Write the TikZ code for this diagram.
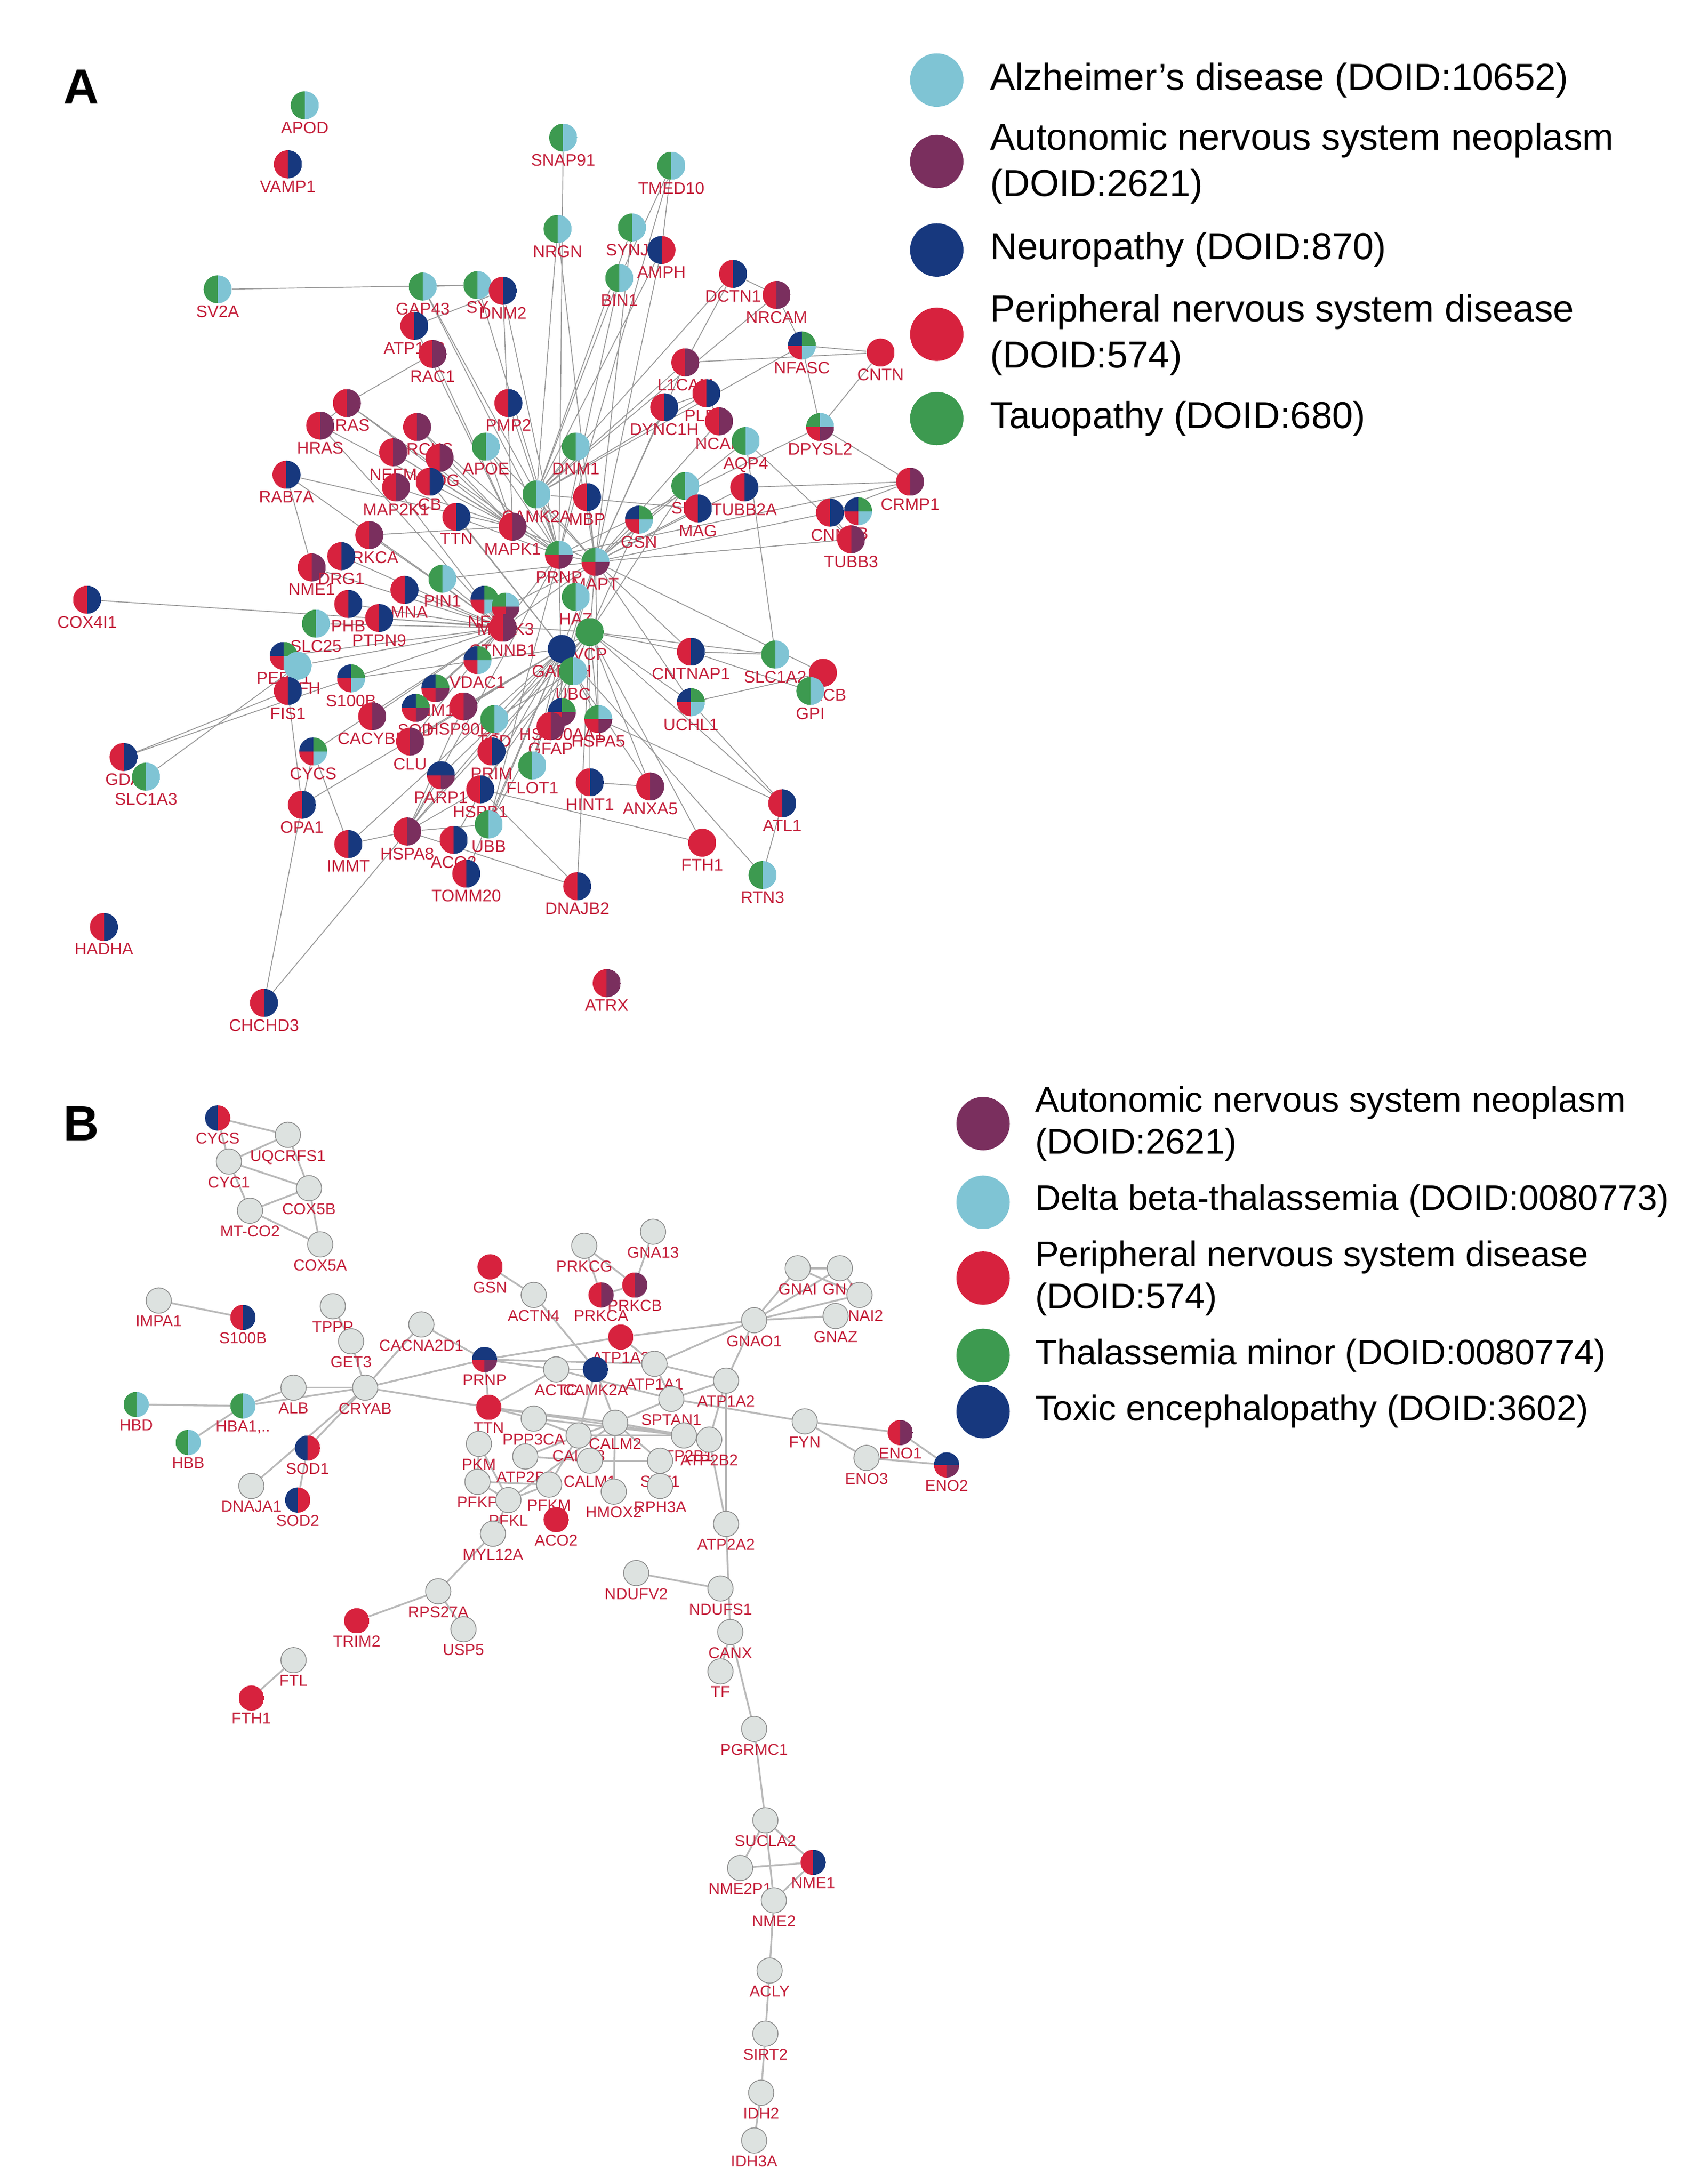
\documentclass[tikz,border=0pt]{standalone}
\usepackage{fontspec}
\setmainfont{Liberation Sans}
\usetikzlibrary{backgrounds}
\definecolor{cy}{HTML}{7FC4D4}
\definecolor{pu}{HTML}{7A2F5E}
\definecolor{nv}{HTML}{17387E}
\definecolor{rd}{HTML}{D7223E}
\definecolor{gr}{HTML}{3D9A50}
\definecolor{gyf}{HTML}{DDE2E0}
\definecolor{gyd}{HTML}{8C8C8C}
\definecolor{lbl}{HTML}{C41F3A}
\tikzset{
 pnode/.style={circle,minimum size=1.0cm,inner sep=0pt},
 gnode/.style={circle,minimum size=0.9cm,inner sep=0pt,fill=gyf,draw=gyd,line width=0.8pt},
 lab/.style={font=\fontsize{17}{17}\selectfont,text=lbl,inner sep=0pt},
 labB/.style={font=\fontsize{16}{16}\selectfont,text=lbl,inner sep=0pt},
 ppic/.style 2 args={path picture={
   \fill[#1] (path picture bounding box.south west) rectangle (path picture bounding box.north);
   \fill[#2] (path picture bounding box.south) rectangle (path picture bounding box.north east);}},
 qpic/.style n args={4}{path picture={
   \fill[#1] (path picture bounding box.west) rectangle (path picture bounding box.north);
   \fill[#2] (path picture bounding box.center) rectangle (path picture bounding box.north east);
   \fill[#3] (path picture bounding box.south west) rectangle (path picture bounding box.center);
   \fill[#4] (path picture bounding box.south) rectangle (path picture bounding box.east);}},
 edgeA/.style={draw=gray!80,line width=0.9pt},
 edgeB/.style={draw=gray!55,line width=1.8pt},
 leg/.style={font=\fontsize{38}{44}\selectfont,anchor=west,inner sep=0pt},
 legB/.style={font=\fontsize{36}{42}\selectfont,anchor=west,inner sep=0pt},
}
\newcommand\pn[6]{\node[pnode,ppic={#4}{#5},label={[lab,label distance=2pt]below:#6}] (#1) at (#2,#3) {};}
\newcommand\qn[8]{\node[pnode,qpic={#4}{#5}{#6}{#7},label={[lab,label distance=2pt]below:#8}] (#1) at (#2,#3) {};}
\newcommand\gn[4]{\node[gnode,label={[labB,label distance=2pt]below:#4}] (#1) at (#2,#3) {};}
\newcommand\cn[5]{\node[pnode,minimum size=0.9cm,ppic={#4}{#5},label={[labB,label distance=2pt]below:#1}] (b#1) at (#2,#3) {};}
\begin{document}
\begin{tikzpicture}[x=0.05cm,y=-0.05cm]
\useasboundingbox (0,0) rectangle (1216,1555);
% panel letters
\node[font=\fontsize{50}{50}\selectfont\bfseries] (LA) at (58,62) {A};
\node[font=\fontsize{50}{50}\selectfont\bfseries] (LB) at (58,800) {B};
% legend A
\foreach \c/\y in {cy/57,pu/115,nv/178,rd/238,gr/298}{\fill[\c] (667,\y) circle (0.95cm);}
\node[leg] (la1) at (705,57) {Alzheimer's disease (DOID:10652)};
\node[leg] (la2) at (705,100) {Autonomic nervous system neoplasm};
\node[leg] (la3) at (705,133) {(DOID:2621)};
\node[leg] (la4) at (705,178) {Neuropathy (DOID:870)};
\node[leg] (la5) at (705,222) {Peripheral nervous system disease};
\node[leg] (la6) at (705,255) {(DOID:574)};
\node[leg] (la7) at (705,298) {Tauopathy (DOID:680)};
% legend B
\foreach \c/\y in {pu/800,cy/856,rd/910,gr/965,nv/1005}{\fill[\c] (700,\y) circle (0.95cm);}
\node[legB] (lb1) at (737,785) {Autonomic nervous system neoplasm};
\node[legB] (lb2) at (737,815) {(DOID:2621)};
\node[legB] (lb3) at (737,855) {Delta beta-thalassemia (DOID:0080773)};
\node[legB] (lb4) at (737,895) {Peripheral nervous system disease};
\node[legB] (lb5) at (737,925) {(DOID:574)};
\node[legB] (lb6) at (737,965) {Thalassemia minor (DOID:0080774)};
\node[legB] (lb7) at (737,1005) {Toxic encephalopathy (DOID:3602)};
% ---------------- panel A nodes
\pn{APOD}{217}{75}{gr}{cy}{APOD}
\pn{VAMP1}{205}{117}{rd}{nv}{VAMP1}
\pn{SNAP91}{401}{98}{gr}{cy}{SNAP91}
\pn{TMED10}{478}{118}{gr}{cy}{TMED10}
\pn{SV2A}{155}{206}{gr}{cy}{SV2A}
\pn{GAP43}{301}{204}{gr}{cy}{GAP43}
\pn{SYT}{340}{203}{gr}{cy}{SY}
\pn{DNM2}{358}{207}{rd}{nv}{DNM2}
\pn{NRGN}{397}{163}{gr}{cy}{NRGN}
\pn{SYNJ1}{450}{162}{gr}{cy}{SYNJ1}
\pn{AMPH}{471}{178}{nv}{rd}{AMPH}
\pn{BIN1}{441}{198}{gr}{cy}{BIN1}
\pn{DCTN1}{522}{195}{rd}{nv}{DCTN1}
\pn{NRCAM}{553}{210}{rd}{pu}{NRCAM}
\pn{ATP1A3}{295}{232}{rd}{nv}{ATP1A3}
\pn{RAC1}{308}{252}{rd}{pu}{RAC1}
\qn{NFASC}{571}{246}{nv}{gr}{rd}{cy}{NFASC}
\pn{CNTN}{627}{251}{rd}{rd}{CNTN}
\pn{L1CAM}{488}{258}{rd}{pu}{L1CAM}
\pn{PLEC}{503}{280}{rd}{nv}{PLEC}
\pn{KRAS}{247}{287}{rd}{pu}{KRAS}
\pn{HRAS}{228}{303}{rd}{pu}{HRAS}
\pn{PMP2}{362}{287}{rd}{nv}{PMP2}
\pn{DYNC1H}{473}{290}{rd}{nv}{DYNC1H}
\pn{NCAN}{512}{300}{rd}{pu}{NCAN}
\pn{AQP4}{531}{314}{gr}{cy}{AQP4}
\qn{DPYSL2}{584}{304}{gr}{cy}{rd}{pu}{DPYSL2}
\pn{MARCKS}{297}{304}{rd}{pu}{MARCKS}
\pn{NEFM}{280}{322}{rd}{pu}{NEFM}
\pn{MOG}{313}{326}{rd}{pu}{MOG}
\pn{APOE}{346}{318}{gr}{cy}{APOE}
\pn{DNM1}{410}{318}{gr}{cy}{DNM1}
\pn{RAB7A}{204}{338}{rd}{nv}{RAB7A}
\pn{CRMP1}{648}{343}{rd}{pu}{CRMP1}
\pn{MAP2K1}{282}{347}{rd}{pu}{MAP2K1}
\pn{CB}{306}{343}{rd}{nv}{CB}
\pn{CAMK2A}{382}{352}{gr}{cy}{CAMK2A}
\pn{MBP}{418}{354}{rd}{nv}{MBP}
\pn{SIRT}{488}{346}{gr}{cy}{SIR}
\pn{TUBB2A}{530}{347}{rd}{nv}{TUBB2A}
\pn{CNM}{591}{365}{rd}{nv}{CNM}
\qn{X1B}{611}{364}{nv}{gr}{rd}{cy}{1B}
\pn{TUBB3}{606}{384}{rd}{pu}{TUBB3}
\pn{TTN}{325}{368}{rd}{nv}{TTN}
\pn{MAPK1}{365}{375}{rd}{pu}{MAPK1}
\qn{GSN}{455}{370}{nv}{gr}{rd}{cy}{GSN}
\pn{MAG}{497}{362}{rd}{nv}{MAG}
\pn{PRKCA}{263}{381}{rd}{pu}{PRKCA}
\pn{NME1}{222}{404}{rd}{pu}{NME1}
\pn{DRG1}{243}{396}{rd}{nv}{DRG1}
\qn{PRNP}{398}{395}{gr}{cy}{rd}{pu}{PRNP}
\qn{MAPT}{424}{400}{gr}{cy}{rd}{pu}{MAPT}
\pn{PIN1}{315}{412}{gr}{cy}{PIN1}
\pn{LMNA}{288}{420}{rd}{nv}{LMNA}
\qn{NEF}{345}{427}{nv}{gr}{rd}{cy}{NEF}
\qn{MAPK3}{360}{432}{gr}{cy}{rd}{pu}{MAPK3}
\pn{HAZ}{410}{425}{gr}{cy}{HAZ}
\pn{SLC25}{225}{444}{gr}{cy}{SLC25}
\pn{PHB}{248}{430}{rd}{nv}{PHB}
\pn{PTPN9}{270}{440}{rd}{nv}{PTPN9}
\pn{CTNNB1}{358}{447}{rd}{pu}{CTNNB1}
\pn{VCP}{420}{450}{gr}{gr}{VCP}
\pn{GAPDH}{400}{462}{nv}{nv}{GAPDH}
\pn{UBC}{408}{478}{gr}{cy}{UBC}
\pn{COX4I1}{62}{427}{rd}{nv}{COX4I1}
\qn{PEBP1}{202}{467}{nv}{gr}{rd}{cy}{PEBP1}
\pn{NEFH}{212}{474}{cy}{cy}{NEFH}
\pn{FIS1}{205}{492}{rd}{nv}{FIS1}
\qn{S100B}{250}{483}{nv}{gr}{rd}{cy}{S100B}
\qn{VDAC1}{340}{470}{nv}{gr}{rd}{cy}{VDAC1}
\pn{CNTNAP1}{492}{464}{rd}{nv}{CNTNAP1}
\pn{SLC1A2}{552}{466}{gr}{cy}{SLC1A2}
\pn{SNCB}{586}{479}{rd}{rd}{SNCB}
\pn{GPI}{577}{492}{gr}{cy}{GPI}
\qn{HSP90AA1}{400}{507}{nv}{gr}{rd}{pu}{HSP90AA1}
\qn{UCHL1}{492}{500}{nv}{gr}{rd}{cy}{UCHL1}
\qn{DNM1L}{310}{490}{nv}{gr}{rd}{pu}{DNM1L}
\qn{SOD}{296}{504}{nv}{gr}{rd}{pu}{SOD}
\pn{HSP90B1}{330}{503}{rd}{pu}{HSP90B1}
\pn{TSD}{352}{512}{gr}{cy}{TSD}
\pn{GFAP}{392}{517}{rd}{pu}{GFAP}
\pn{CACYBP}{265}{510}{rd}{pu}{CACYBP}
\qn{HSPA5}{426}{512}{gr}{cy}{rd}{pu}{HSPA5}
\pn{CLU}{292}{528}{rd}{pu}{CLU}
\qn{CYCS}{223}{535}{nv}{gr}{rd}{cy}{CYCS}
\pn{GDA}{88}{539}{rd}{nv}{GDA}
\pn{SLC1A3}{104}{553}{gr}{cy}{SLC1A3}
\pn{FLOT1}{379}{545}{gr}{cy}{FLOT1}
\pn{PRIM}{350}{535}{rd}{nv}{PRIM}
\qn{PARP1}{314}{552}{nv}{nv}{rd}{pu}{PARP1}
\pn{HSPB1}{342}{562}{rd}{nv}{HSPB1}
\pn{HINT1}{420}{557}{rd}{nv}{HINT1}
\pn{ANXA5}{463}{560}{rd}{pu}{ANXA5}
\pn{ATL1}{557}{572}{rd}{nv}{ATL1}
\pn{OPA1}{215}{573}{rd}{nv}{OPA1}
\pn{HSPA8}{290}{592}{rd}{pu}{HSPA8}
\pn{UBB}{348}{587}{gr}{cy}{UBB}
\pn{ACO2}{323}{598}{rd}{nv}{ACO2}
\pn{FTH1}{500}{600}{rd}{rd}{FTH1}
\pn{IMMT}{248}{601}{rd}{nv}{IMMT}
\pn{TOMM20}{332}{622}{rd}{nv}{TOMM20}
\pn{RTN3}{543}{623}{gr}{cy}{RTN3}
\pn{DNAJB2}{411}{631}{rd}{nv}{DNAJB2}
\pn{HADHA}{74}{660}{rd}{nv}{HADHA}
\pn{ATRX}{432}{700}{rd}{pu}{ATRX}
\pn{CHCHD3}{188}{714}{rd}{nv}{CHCHD3}
% ---------------- panel B nodes
\cn{CYCS}{155}{796}{nv}{rd}
\gn{bUQCRFS1}{205}{808}{UQCRFS1}
\gn{bCYC1}{163}{827}{CYC1}
\gn{bCOX5B}{220}{846}{COX5B}
\gn{bMTCO2}{178}{862}{MT-CO2}
\gn{bCOX5A}{228}{886}{COX5A}
\gn{bIMPA1}{113}{926}{IMPA1}
\cn{S100B}{173}{938}{rd}{nv}
\gn{bTPPP}{237}{930}{TPPP}
\gn{bGET3}{250}{955}{GET3}
\gn{bCACNA2D1}{300}{943}{CACNA2D1}
\gn{bALB}{209}{988}{ALB}
\gn{bCRYAB}{260}{988}{CRYAB}
\cn{HBD}{97}{1000}{gr}{cy}
\node[pnode,minimum size=0.9cm,ppic={gr}{cy},label={[labB,label distance=2pt]below:HBA1,..}] (bHBA1) at (173,1001) {};
\cn{HBB}{134}{1027}{gr}{cy}
\cn{SOD1}{219}{1031}{nv}{rd}
\gn{bDNAJA1}{179}{1058}{DNAJA1}
\cn{SOD2}{212}{1068}{nv}{rd}
\cn{GSN}{349}{902}{rd}{rd}
\gn{bPRKCG}{416}{887}{PRKCG}
\gn{bGNA13}{465}{877}{GNA13}
\cn{PRKCB}{452}{915}{rd}{pu}
\cn{PRKCA}{428}{922}{rd}{pu}
\gn{bACTN4}{380}{922}{ACTN4}
\node[pnode,minimum size=0.9cm,qpic={nv}{nv}{rd}{pu},label={[labB,label distance=2pt]below:PRNP}] (bPRNP) at (345,968) {};
\cn{ATP1A3}{442}{952}{rd}{rd}
\gn{bACTC}{396}{975}{ACTC}
\cn{CAMK2A}{424}{975}{nv}{nv}
\gn{bATP1A1}{466}{971}{ATP1A1}
\gn{bATP1A2}{517}{983}{ATP1A2}
\cn{TTN}{348}{1002}{rd}{rd}
\gn{bPPP3CA}{380}{1010}{PPP3CA}
\gn{bSPTAN1}{478}{996}{SPTAN1}
\gn{bCALM2}{438}{1013}{CALM2}
\gn{bATP2B1}{487}{1022}{ATP2B1}
\gn{bATP2B2}{505}{1025}{ATP2B2}
\gn{bPKM}{341}{1028}{PKM}
\gn{bCALM3}{412}{1022}{CALM3}
\gn{bATP2B4}{374}{1037}{ATP2B4}
\gn{bCALM1}{420}{1040}{CALM1}
\gn{bSYT1}{470}{1040}{SYT1}
\gn{bPFKP}{340}{1055}{PFKP}
\gn{bPFKM}{391}{1057}{PFKM}
\gn{bPFKL}{362}{1068}{PFKL}
\gn{bHMOX2}{437}{1062}{HMOX2}
\gn{bRPH3A}{470}{1058}{RPH3A}
\cn{ACO2}{396}{1082}{rd}{rd}
\gn{bMYL12A}{351}{1092}{MYL12A}
\gn{bATP2A2}{517}{1085}{ATP2A2}
\gn{bGNAO1}{537}{940}{GNAO1}
\gn{bGNAI}{568}{903}{GNAI}
\gn{bGNA}{598}{903}{GNA}
\gn{bGNAI2}{612}{922}{GNAI2}
\gn{bGNAZ}{595}{937}{GNAZ}
\gn{bFYN}{573}{1012}{FYN}
\cn{ENO1}{641}{1020}{rd}{pu}
\gn{bENO3}{617}{1038}{ENO3}
\node[pnode,minimum size=0.9cm,qpic={nv}{nv}{rd}{pu},label={[labB,label distance=2pt]below:ENO2}] (bENO2) at (674,1043) {};
\gn{bNDUFV2}{453}{1120}{NDUFV2}
\gn{bNDUFS1}{513}{1131}{NDUFS1}
\gn{bCANX}{520}{1162}{CANX}
\gn{bTF}{513}{1190}{TF}
\gn{bPGRMC1}{537}{1231}{PGRMC1}
\gn{bSUCLA2}{545}{1296}{SUCLA2}
\cn{NME1}{579}{1326}{rd}{nv}
\gn{bNME2P1}{527}{1330}{NME2P1}
\gn{bNME2}{551}{1353}{NME2}
\gn{bACLY}{548}{1403}{ACLY}
\gn{bSIRT2}{545}{1448}{SIRT2}
\gn{bIDH2}{542}{1490}{IDH2}
\gn{bIDH3A}{537}{1524}{IDH3A}
\gn{bRPS27A}{312}{1133}{RPS27A}
\gn{bUSP5}{330}{1160}{USP5}
\cn{TRIM2}{254}{1154}{rd}{rd}
\gn{bFTL}{209}{1182}{FTL}
\cn{FTH1}{179}{1209}{rd}{rd}
% ---------------- edges
\begin{pgfonlayer}{background}
\fill[white] (0,0) rectangle (1216,1555);
\foreach \h/\l in {
 MAPT/{PRNP,CAMK2A,MBP,GSN,SIRT,TUBB2A,DNM1,APOE,MAPK1,MAPK3,VCP,UCHL1,CNTNAP1,HSPA5,GFAP,SNCB,DYNC1H,AMPH,SYNJ1,NRGN,L1CAM,NCAN,CNM,TUBB3,PIN1,CTNNB1,GAPDH,FLOT1,AQP4,MAG},
 PRNP/{CAMK2A,APOE,MAPK1,TTN,NEFM,HSPA8,HSP90AA1,UBB,BIN1,SYT,GAP43,DNM2,KRAS,MARCKS,PMP2,CLU,CRMP1,DPYSL2,SNAP91,TMED10},
 VCP/{UBC,GAPDH,HSPA5,HINT1,ANXA5,FTH1,HSPB1,PARP1,CNTNAP1,SLC1A2,COX4I1,DNAJB2,UCHL1,HSPA8,ATL1,SIRT,GSN},
 CTNNB1/{LMNA,PIN1,MAPK3,NEF,PHB,PTPN9,SLC25,S100B,VDAC1,DNM1L,SOD,CACYBP,CYCS,PEBP1,NEFH,DRG1,NME1,PRKCA,HRAS,RAB7A,MAP2K1},
 GAPDH/{CB,TTN,HSP90B1,TSD,PRIM,FLOT1,CLU,ACO2,TOMM20,IMMT,OPA1,HSPA8,UBB,RTN3,S100B},
 MAPK1/{MAP2K1,KRAS,HRAS,RAC1,ATP1A3,MARCKS,MOG,NEFM,RAB7A,PRKCA,DNM2,APOE},
 CAMK2A/{DNM1,SYNJ1,AMPH,BIN1,NRGN,DCTN1,NRCAM,NFASC,L1CAM,PLEC,MAG,GAP43},
 HSPA8/{HSPB1,DNAJB2,PARP1,HSP90B1,CHCHD3,IMMT,UBB},
 UBC/{UBB,HSP90AA1,HSPA5,ANXA5,TSD,PRIM}}
 {\foreach \t in \l {\draw[edgeA] (\h) -- (\t);}}
\foreach \a/\b in {SV2A/SYT,SYT/DNM2,GAP43/SYT,TMED10/AMPH,TMED10/BIN1,NFASC/CNTN,CNTN/L1CAM,CNTN/DPYSL2,CRMP1/DPYSL2,CRMP1/TUBB2A,CRMP1/CNM,TUBB3/CNM,TUBB3/AQP4,SLC1A2/AQP4,GDA/S100B,SLC1A3/NEFH,GDA/FIS1,CHCHD3/OPA1,ATL1/HSPA5,FTH1/HSPB1,GPI/SNCB,GPI/CNTNAP1,ATL1/UCHL1,DCTN1/NRCAM,NRCAM/NFASC,DCTN1/L1CAM,NFASC/DPYSL2,PLEC/NCAN,DYNC1H/PLEC,HRAS/KRAS,KRAS/RAC1,ATP1A3/DNM2,RAB7A/NME1,FIS1/OPA1,CYCS/OPA1,CYCS/IMMT,RTN3/ATL1,DNAJB2/HSPB1,ANXA5/HINT1,SNCB/UCHL1,SLC1A2/CNTNAP1}
 {\draw[edgeA] (\a) -- (\b);}
\foreach \a/\b in {bCYCS/bUQCRFS1,bCYCS/bCYC1,bUQCRFS1/bCYC1,bUQCRFS1/bCOX5B,bCYC1/bCOX5B,bCYC1/bMTCO2,bMTCO2/bCOX5B,bCOX5B/bCOX5A,bMTCO2/bCOX5A,
 bIMPA1/bS100B,bTPPP/bGET3,bGET3/bCRYAB,bCACNA2D1/bCRYAB,bALB/bCRYAB,bHBA1/bCRYAB,bSOD1/bCRYAB,bDNAJA1/bCRYAB,bCRYAB/bTTN,bCRYAB/bPRNP,bHBD/bHBA1,bHBB/bHBA1,bALB/bHBA1,bSOD1/bSOD2,bCACNA2D1/bPRNP,
 bGSN/bACTN4,bACTN4/bCAMK2A,bPRKCG/bPRKCA,bPRKCG/bPRKCB,bGNA13/bPRKCB,bPRKCA/bPRKCB,bATP1A3/bPRNP,bATP1A3/bGNAO1,bATP1A3/bATP1A1,
 bGNAO1/bGNAI,bGNAO1/bGNA,bGNAO1/bGNAI2,bGNAO1/bGNAZ,bGNAI/bGNA,bGNAI/bGNAI2,bGNA/bGNAI2,bGNAO1/bATP1A2,bGNAO1/bATP1A1,
 bATP1A1/bATP1A2,bATP1A1/bSPTAN1,bPRNP/bATP1A1,bPRNP/bACTC,bATP1A2/bATP2B2,bATP1A2/bSPTAN1,bSPTAN1/bFYN,bFYN/bENO1,bFYN/bENO3,bENO3/bENO2,bENO1/bENO2,
 bTTN/bPRNP,bTTN/bACTC,bTTN/bCALM2,bTTN/bATP2B1,bTTN/bPPP3CA,bPPP3CA/bATP2B1,bCALM2/bCALM3,bCALM2/bCAMK2A,bCALM2/bATP2B1,bCALM2/bSPTAN1,bCALM3/bPPP3CA,bCALM3/bATP2B4,bCALM1/bATP2B4,bCALM2/bATP2B2,bCALM3/bATP2B1,bCAMK2A/bCALM3,bACTC/bCAMK2A,bACTC/bSPTAN1,
 bPFKP/bPFKM,bPFKP/bPFKL,bPFKL/bPFKM,bPKM/bPFKP,bPKM/bPFKL,bPFKL/bMYL12A,bCALM2/bSYT1,bSYT1/bRPH3A,bCALM2/bHMOX2,bCALM3/bPFKM,bCALM2/bPFKL,bCALM1/bSYT1,
 bATP2B2/bATP2A2,bATP1A2/bATP2A2,bATP2A2/bCANX,bNDUFV2/bNDUFS1,bCANX/bTF,bCANX/bPGRMC1,bPGRMC1/bSUCLA2,bSUCLA2/bNME1,bSUCLA2/bNME2P1,bSUCLA2/bNME2,bNME1/bNME2P1,bNME1/bNME2,bNME2/bACLY,bACLY/bSIRT2,bSIRT2/bIDH2,bIDH2/bIDH3A,
 bMYL12A/bRPS27A,bRPS27A/bUSP5,bRPS27A/bTRIM2,bFTL/bFTH1}
 {\draw[edgeB] (\a) -- (\b);}
\end{pgfonlayer}
\end{tikzpicture}
\end{document}
